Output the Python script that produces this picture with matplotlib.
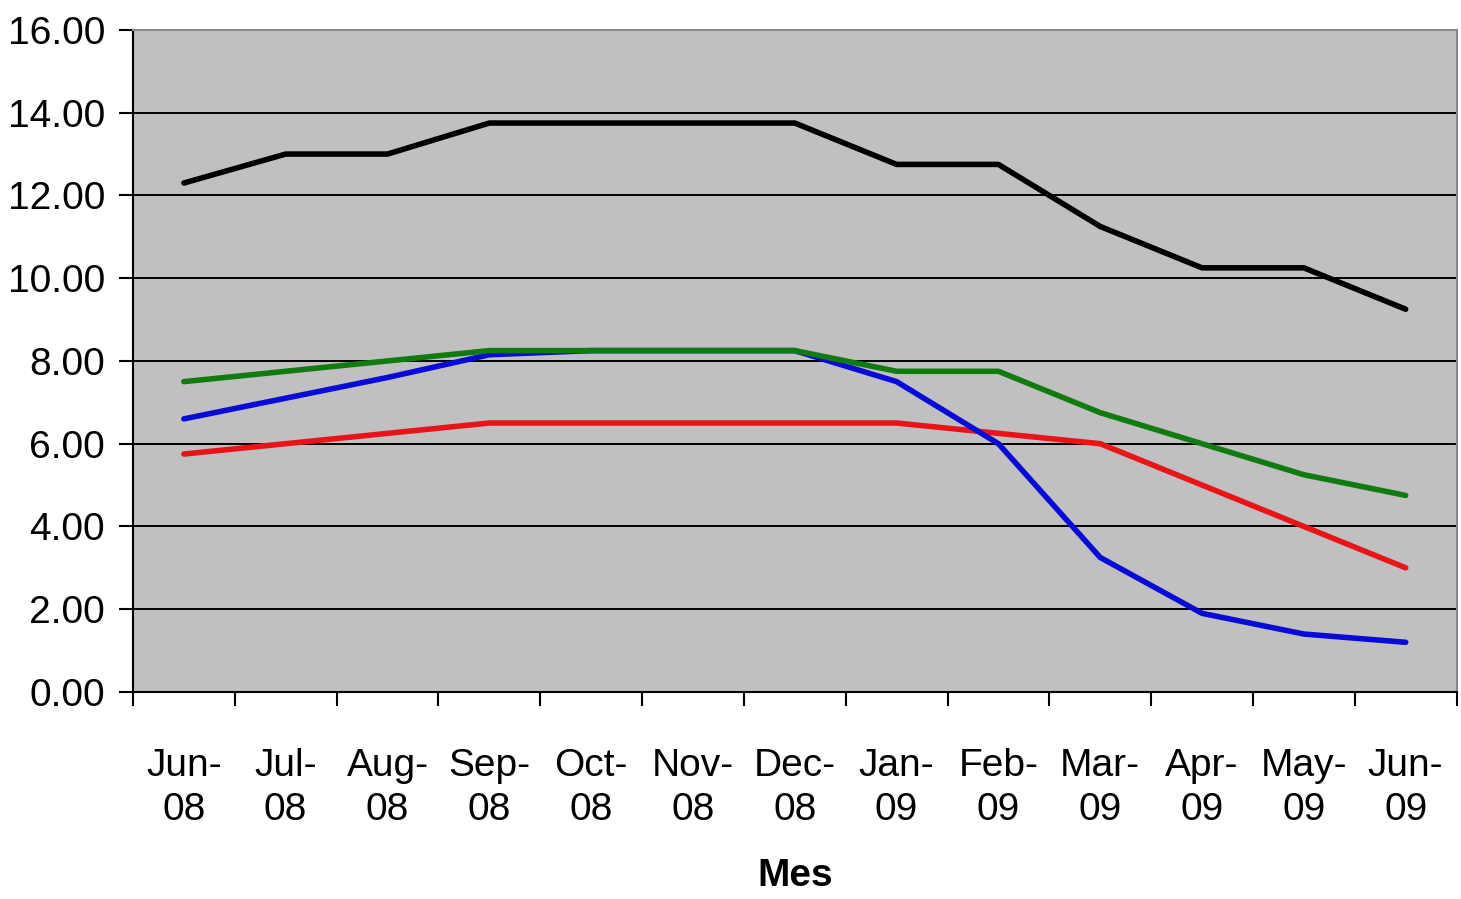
import matplotlib
matplotlib.use("Agg")
import matplotlib.pyplot as plt

months = ["Jun-\n08", "Jul-\n08", "Aug-\n08", "Sep-\n08", "Oct-\n08", "Nov-\n08", "Dec-\n08",
          "Jan-\n09", "Feb-\n09", "Mar-\n09", "Apr-\n09", "May-\n09", "Jun-\n09"]

red_vals = [5.75, 6.00, 6.25, 6.50, 6.50, 6.50, 6.50, 6.50, 6.25, 6.00, 5.00, 4.00, 3.00]
blue_vals = [6.60, 7.10, 7.60, 8.15, 8.25, 8.25, 8.25, 7.50, 6.00, 3.25, 1.90, 1.40, 1.20]
green_vals = [7.50, 7.75, 8.00, 8.25, 8.25, 8.25, 8.25, 7.75, 7.75, 6.75, 6.00, 5.25, 4.75]
black_vals = [12.30, 13.00, 13.00, 13.75, 13.75, 13.75, 13.75, 12.75, 12.75, 11.25, 10.25, 10.25, 9.25]

yticks = [0, 2, 4, 6, 8, 10, 12, 14, 16]
ytick_labels = ["0.00", "2.00", "4.00", "6.00", "8.00", "10.00", "12.00", "14.00", "16.00"]

plt.rcParams['font.family'] = ['Liberation Sans', 'DejaVu Sans']

fig = plt.figure(figsize=(14.61, 8.99), dpi=100)
ax = fig.add_axes([0.091, 0.2303, 0.906, 0.7364])
ax.set_facecolor("#c0c0c0")

x = list(range(len(months)))
lw = 4.0
ax.plot(x, red_vals, color="#e8141a", lw=lw, solid_joinstyle="round", solid_capstyle="round", zorder=3)
ax.plot(x, blue_vals, color="#0a0ad8", lw=lw, solid_joinstyle="round", solid_capstyle="round", zorder=4)
ax.plot(x, green_vals, color="#117a11", lw=lw, solid_joinstyle="round", solid_capstyle="round", zorder=5)
ax.plot(x, black_vals, color="#000000", lw=lw, solid_joinstyle="round", solid_capstyle="round", zorder=6)

ax.set_xlim(-0.45, len(months) - 0.5)
ax.set_ylim(0, 16)
ax.set_yticks(yticks)
ax.set_yticklabels(ytick_labels, fontsize=28)
for yv in yticks[1:-1]:
    ax.axhline(yv, color="black", lw=1.4, zorder=1)

ax.set_xticks(x)
ax.set_xticklabels(months, fontsize=28, linespacing=1.3)
ax.set_xticks([i + 0.5 for i in range(-1, len(months))], minor=True)
ax.tick_params(axis="x", which="major", length=0, pad=40)
ax.tick_params(axis="x", which="minor", length=10, width=1.5, color="black")
ax.tick_params(axis="y", length=10, width=1.5, pad=10)

ax.spines["left"].set_color("black")
ax.spines["left"].set_linewidth(1.5)
ax.spines["bottom"].set_color("black")
ax.spines["bottom"].set_linewidth(1.5)
ax.spines["top"].set_color("#888888")
ax.spines["top"].set_linewidth(1.5)
ax.spines["right"].set_color("#888888")
ax.spines["right"].set_linewidth(1.5)

ax.set_xlabel("Mes", fontsize=28, fontweight="bold", labelpad=22)

fig.savefig("out.png", dpi=100, facecolor="white")
